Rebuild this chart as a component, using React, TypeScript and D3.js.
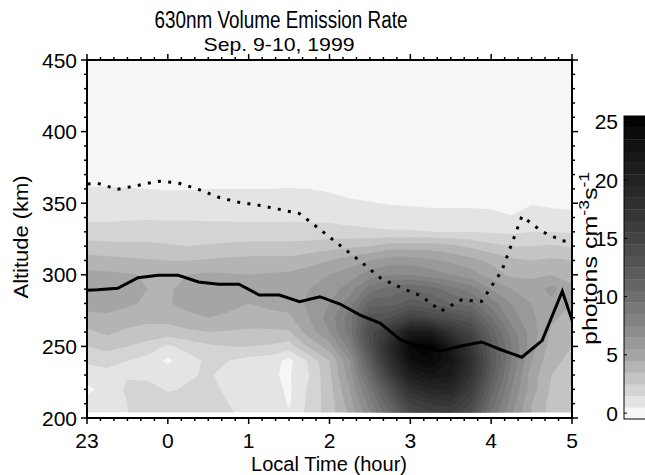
import React from "react";
import * as d3 from "d3";

// ---------- axis ticks ----------
const TIME_TICKS = [-1, 0, 1, 2, 3, 4, 5];
const TIME_TICK_LABELS = ["23", "0", "1", "2", "3", "4", "5"];
const ALT_TICKS = [200, 250, 300, 350, 400, 450];
const CBAR_TICKS = [0, 5, 10, 15, 20, 25];
const CONTOUR_LEVELS = [1, 2, 3, 4, 5, 6, 7, 8, 9, 10, 11, 12, 13, 14, 15, 16, 17, 18, 19, 20, 21, 22, 23, 24, 25];

// ---------- emission grid (photons cm^-3 s^-1) ----------
// columns: local time, hours relative to midnight (23h = -1)
const GRID_TIMES = [-1, -0.75, -0.5, -0.25, 0, 0.25, 0.5, 0.75, 1, 1.25, 1.5, 1.75, 2, 2.25, 2.5, 2.75, 3, 3.25, 3.5, 3.75, 4, 4.25, 4.5, 4.75, 5];
// rows: altitude (km)
const GRID_ALTS = [200, 210, 220, 230, 240, 250, 260, 270, 280, 290, 300, 310, 320, 330, 340, 350, 360, 370, 380];

const ROW_200 = [1.6, 1.8, 2.0, 2.2, 2.6, 3.0, 2.6, 2.2, 1.8, 1.8, 1.2, 2.4, 3.5, 5, 7.5, 10.5, 14, 15, 15.5, 13.5, 9.5, 7, 5, 3.5, 3.1];
const ROW_210 = [1.3, 1.6, 2.0, 2.2, 2.5, 2.8, 2.4, 2.0, 1.6, 1.7, 0.9, 2.3, 3.5, 5.5, 8.5, 12, 16, 17, 17.5, 15, 10.5, 7.5, 5, 3.6, 3.2];
const ROW_220 = [0.8, 1.3, 2.2, 2.3, 1.9, 2.1, 2.3, 1.8, 1.2, 1.5, 0.8, 2.2, 3.6, 6, 9.5, 14, 18.5, 20, 20, 16.5, 11.5, 8, 5.5, 3.8, 3.4];
const ROW_230 = [1.4, 1.6, 1.9, 1.8, 1.6, 1.9, 2.1, 1.7, 1.4, 1.1, 0.9, 2.0, 3.8, 6.5, 11, 16.5, 21.5, 23, 22, 18, 12.5, 8.5, 5.5, 4.0, 3.6];
const ROW_240 = [2.2, 2.4, 2.0, 1.6, 0.8, 1.6, 2.2, 2.0, 1.6, 1.5, 0.7, 2.2, 4, 7, 12.5, 18.5, 24, 25, 23, 18.5, 13, 9, 6, 4.2, 3.8];
const ROW_250 = [3.0, 3.3, 3.0, 2.6, 1.8, 2.4, 2.8, 3.0, 3.0, 2.9, 2.5, 4.2, 5.5, 8.5, 14, 19.5, 25, 26, 22, 17.5, 12.5, 9, 6.5, 4.5, 4.0];
const ROW_260 = [3.8, 4.2, 3.8, 3.6, 3.6, 3.8, 4.0, 3.9, 3.8, 3.8, 3.9, 5.5, 7, 9.5, 14.5, 17.5, 22, 22, 18, 15.5, 11.5, 8.5, 6.5, 4.8, 4.3];
const ROW_270 = [4.6, 4.8, 4.5, 4.3, 4.3, 4.7, 5.0, 4.8, 4.6, 4.7, 4.8, 6.0, 7.5, 9.5, 13.5, 14, 16, 15, 14, 13, 10, 7.5, 6.2, 5.2, 4.6];
const ROW_280 = [5.5, 5.4, 5.2, 4.8, 4.9, 5.4, 5.5, 5.3, 5.0, 5.2, 5.4, 6.2, 7, 8.5, 11.5, 11.5, 12.5, 12, 11, 10.5, 8.5, 7, 6, 5.8, 5.0];
const ROW_290 = [5.7, 5.6, 5.5, 5.0, 4.8, 5.5, 5.6, 5.5, 5.2, 5.4, 5.6, 6.0, 6.5, 7.5, 9.5, 10.5, 11, 10.5, 9.5, 8.5, 7, 6, 5.5, 6.3, 5.2];
const ROW_300 = [5.3, 5.2, 5.1, 4.9, 4.7, 5.0, 5.2, 5.1, 5.0, 5.1, 5.2, 5.5, 6, 6.5, 7.5, 8, 8, 7.5, 7, 6.5, 5.5, 4.8, 4.8, 5.0, 4.6];
const ROW_310 = [4.4, 4.3, 4.2, 4.1, 4.0, 4.0, 4.1, 4.2, 4.3, 4.3, 4.3, 4.6, 5.0, 5.5, 6, 6.5, 6.5, 6.2, 5.8, 5.3, 4.8, 4.2, 4.0, 4.2, 4.0];
const ROW_320 = [3.4, 3.3, 3.2, 3.2, 3.1, 3.0, 3.1, 3.2, 3.3, 3.3, 3.3, 3.4, 3.6, 3.8, 4.0, 4.5, 4.5, 4.5, 4.2, 3.8, 3.3, 3.0, 3.0, 3.1, 2.9];
const ROW_330 = [2.4, 2.4, 2.5, 2.5, 2.4, 2.4, 2.4, 2.4, 2.4, 2.4, 2.4, 2.4, 2.4, 2.3, 2.2, 2.1, 2.1, 2.0, 2.0, 2.0, 1.9, 1.8, 2.0, 2.0, 1.9];
const ROW_340 = [1.85, 1.8, 1.85, 1.9, 1.9, 1.9, 1.85, 1.85, 1.8, 1.8, 1.85, 1.8, 1.75, 1.6, 1.5, 1.45, 1.4, 1.3, 1.3, 1.3, 1.25, 1.05, 1.35, 1.3, 1.2];
const ROW_350 = [1.5, 1.5, 1.5, 1.5, 1.5, 1.5, 1.5, 1.5, 1.5, 1.5, 1.5, 1.5, 1.3, 1.1, 1.05, 0.95, 0.9, 0.85, 0.85, 0.85, 0.8, 0.75, 0.95, 0.85, 0.8];
const ROW_360 = [1.1, 1.1, 1.05, 1.0, 0.95, 0.95, 1.0, 1.0, 1.0, 1.0, 1.05, 1.0, 0.9, 0.8, 0.7, 0.7, 0.6, 0.6, 0.6, 0.6, 0.6, 0.6, 0.7, 0.6, 0.6];
const ROW_370 = [0.4, 0.4, 0.4, 0.4, 0.4, 0.4, 0.4, 0.4, 0.4, 0.4, 0.4, 0.4, 0.4, 0.4, 0.4, 0.4, 0.4, 0.4, 0.4, 0.4, 0.4, 0.4, 0.4, 0.4, 0.4];
const ROW_380 = [0.3, 0.3, 0.3, 0.3, 0.3, 0.3, 0.3, 0.3, 0.3, 0.3, 0.3, 0.3, 0.3, 0.3, 0.3, 0.3, 0.3, 0.3, 0.3, 0.3, 0.3, 0.3, 0.3, 0.3, 0.3];

const EMISSION_ROWS = [ROW_200, ROW_210, ROW_220, ROW_230, ROW_240, ROW_250, ROW_260, ROW_270, ROW_280, ROW_290, ROW_300, ROW_310, ROW_320, ROW_330, ROW_340, ROW_350, ROW_360, ROW_370, ROW_380];

// ---------- overlay lines ----------
const LINE_TIMES = [-1.12, -0.87, -0.62, -0.37, -0.12, 0.13, 0.38, 0.63, 0.88, 1.13, 1.38, 1.63, 1.88, 2.13, 2.38, 2.63, 2.88, 3.13, 3.38, 3.63, 3.88, 4.13, 4.38, 4.63, 4.88, 5.13];
const SOLID_ALT = [288.8, 289.5, 290.6, 298, 299.7, 299.7, 295, 293.4, 293.4, 285.9, 285.9, 281.2, 284.7, 279.6, 271.9, 266.1, 254.5, 249.8, 246.8, 250.3, 253.1, 247.5, 242.4, 254, 288.5, 247];
const DOTTED_ALT = [363, 363.9, 359.7, 362.4, 365.4, 364.1, 359.6, 354.1, 350.6, 348.5, 345.7, 342.7, 331.8, 320.5, 309.5, 297.8, 291.1, 285.3, 274.7, 282.4, 281.4, 302.7, 340.9, 330.2, 323.8, 321.8];

// grey level of each colour band (band k covers values k..k+1)
const BAND_GREYS = [246, 228, 212, 196, 180, 165, 153, 141, 130, 120, 110, 101, 92, 84, 76, 68, 61, 54, 47, 41, 35, 29, 23, 17, 11, 5];

const FONT = "'Liberation Sans', Arial, Helvetica, sans-serif";
const grey = (g: number) => `rgb(${g},${g},${g})`;

export default function App() {
  const W = 645, H = 475;
  const L = 87, R = 572, T = 60, B = 418;
  const x = d3.scaleLinear().domain([-1, 5]).range([L, R]);
  const y = d3.scaleLinear().domain([200, 450]).range([B, T]);

  const nx = GRID_TIMES.length, ny = GRID_ALTS.length;
  const values = EMISSION_ROWS.flat();
  const contours = d3.contours().size([nx, ny]).thresholds(CONTOUR_LEVELS)(values);
  const dt = GRID_TIMES[1] - GRID_TIMES[0];
  const da = GRID_ALTS[1] - GRID_ALTS[0];
  const gx = (c: number) => x(GRID_TIMES[0] + (c - 0.5) * dt);
  const gy = (r: number) => y(GRID_ALTS[0] + (r - 0.5) * da);
  const toPath = (mp: any) =>
    mp.coordinates
      .map((poly: any) =>
        poly.map((ring: any) => "M" + ring.map((p: number[]) => `${gx(p[0]).toFixed(2)},${gy(p[1]).toFixed(2)}`).join("L") + "Z").join("")
      )
      .join("");

  const line = d3.line<number>().x((_, i) => x(LINE_TIMES[i])).y((d) => y(d));

  const xMinor = d3.range(-1, 5.0001, 1 / 6).filter((v) => Math.abs(v - Math.round(v)) > 1e-6);
  const yMinor = d3.range(200, 451, 10).filter((v) => v % 50 !== 0);

  // colour bar
  const cbX = 624, cbW = 30;
  const yc = d3.scaleLinear().domain([0, 26]).range([419, 116]);

  const fillBottom = y(204);

  return (
    <svg width={W} height={H} style={{ position: "absolute", left: 0, top: 0, background: "#fff" }} fontFamily={FONT}>
      <defs>
        <clipPath id="plotClip">
          <rect x={L} y={T} width={R - L} height={fillBottom - T} />
        </clipPath>
        <clipPath id="lineClip">
          <rect x={L} y={T} width={R - L} height={B - T} />
        </clipPath>
      </defs>
      <rect x={0} y={0} width={W} height={H} fill="#fff" />

      {/* title */}
      <text x={281} y={28} fontSize={23} textAnchor="middle" textLength={253} lengthAdjust="spacingAndGlyphs">630nm Volume Emission Rate</text>
      <text x={279} y={50.5} fontSize={19} textAnchor="middle" textLength={151} lengthAdjust="spacingAndGlyphs">Sep. 9-10, 1999</text>

      {/* filled contours */}
      <g clipPath="url(#plotClip)">
        <rect x={L} y={T} width={R - L} height={B - T} fill={grey(BAND_GREYS[0])} />
        {contours.map((c, i) => (
          <path key={i} d={toPath(c)} fill={grey(BAND_GREYS[Math.min(c.value, 25)])} stroke="none" />
        ))}
      </g>

      {/* lines */}
      <g clipPath="url(#lineClip)">
        <path d={line(SOLID_ALT) || ""} fill="none" stroke="#000" strokeWidth={3} strokeLinejoin="miter" />
        <path d={line(DOTTED_ALT) || ""} fill="none" stroke="#000" strokeWidth={3} strokeDasharray="3 7.3" />
      </g>

      {/* frame */}
      <rect x={L} y={T} width={R - L} height={B - T} fill="none" stroke="#000" strokeWidth={2} />

      {/* x ticks */}
      {TIME_TICKS.map((t) => (
        <g key={"xt" + t}>
          <line x1={x(t)} x2={x(t)} y1={B} y2={B + 6} stroke="#000" strokeWidth={1.5} />
          <line x1={x(t)} x2={x(t)} y1={T} y2={T - 6} stroke="#000" strokeWidth={1.5} />
        </g>
      ))}
      {xMinor.map((t, i) => (
        <g key={"xm" + i}>
          <line x1={x(t)} x2={x(t)} y1={B} y2={B + 3} stroke="#000" strokeWidth={1.5} />
          <line x1={x(t)} x2={x(t)} y1={T} y2={T - 3} stroke="#000" strokeWidth={1.5} />
        </g>
      ))}
      {TIME_TICKS.map((t, i) => (
        <text key={"xl" + t} x={x(t)} y={448} fontSize={21} textAnchor="middle">{TIME_TICK_LABELS[i]}</text>
      ))}
      <text x={329} y={471} fontSize={20} textAnchor="middle" textLength={156} lengthAdjust="spacingAndGlyphs">Local Time (hour)</text>

      {/* y ticks */}
      {ALT_TICKS.map((a) => (
        <g key={"yt" + a}>
          <line x1={L} x2={L - 6} y1={y(a)} y2={y(a)} stroke="#000" strokeWidth={1.5} />
          <line x1={R} x2={R + 6} y1={y(a)} y2={y(a)} stroke="#000" strokeWidth={1.5} />
        </g>
      ))}
      {yMinor.map((a) => (
        <g key={"ym" + a}>
          <line x1={L} x2={L - 3} y1={y(a)} y2={y(a)} stroke="#000" strokeWidth={1.5} />
          <line x1={R} x2={R + 3} y1={y(a)} y2={y(a)} stroke="#000" strokeWidth={1.5} />
        </g>
      ))}
      {ALT_TICKS.map((a) => (
        <text key={"yl" + a} x={77} y={y(a) + 7.5} fontSize={21} textAnchor="end">{a}</text>
      ))}
      <text transform={`translate(28,237) rotate(-90)`} fontSize={20} textAnchor="middle" textLength={123} lengthAdjust="spacingAndGlyphs">Altitude (km)</text>

      {/* colour bar */}
      {BAND_GREYS.map((g, k) => (
        <rect key={"cb" + k} x={cbX} y={yc(k + 1)} width={cbW} height={yc(k) - yc(k + 1) + 0.3} fill={grey(g)} />
      ))}
      <rect x={cbX} y={yc(26)} width={cbW} height={yc(0) - yc(26)} fill="none" stroke="#000" strokeWidth={1} />
      {CBAR_TICKS.map((v) => (
        <g key={"cl" + v}>
          <line x1={cbX} x2={cbX + 3} y1={yc(v + 0.5)} y2={yc(v + 0.5)} stroke="#000" strokeWidth={1} />
          <text x={618} y={yc(v + 0.5) + 7.5} fontSize={21} textAnchor="end">{v}</text>
        </g>
      ))}
      <text transform={`translate(597,345) rotate(-90)`} fontSize={20} textLength={173} lengthAdjust="spacingAndGlyphs">
        photons cm<tspan dy={-8} fontSize={14}>-3</tspan><tspan dy={8} fontSize={20}>s</tspan><tspan dy={-8} fontSize={14}>-1</tspan>
      </text>
    </svg>
  );
}
